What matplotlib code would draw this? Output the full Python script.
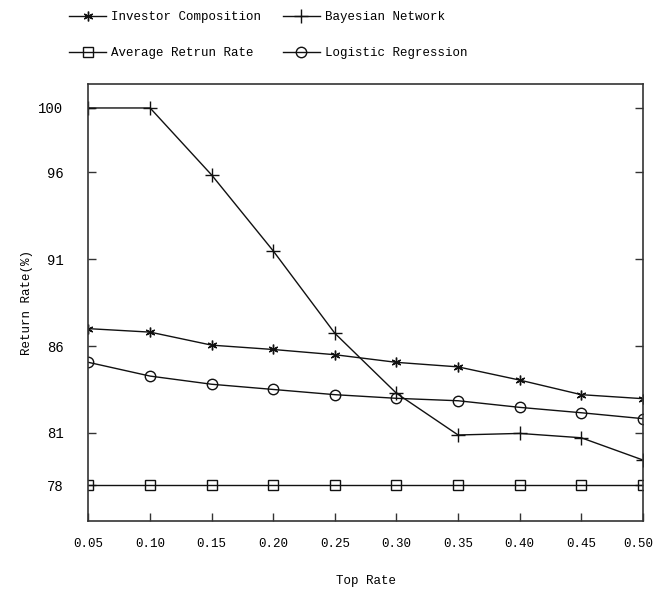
import matplotlib
matplotlib.use('Agg')
import matplotlib.pyplot as plt
from matplotlib.transforms import ScaledTranslation

plt.rcParams['font.family'] = ['Liberation Mono', 'DejaVu Sans Mono']

top_rate = [0.05, 0.10, 0.15, 0.20, 0.25, 0.30, 0.35, 0.40, 0.45, 0.50]
investor = [87.0, 86.8, 86.05, 85.8, 85.5, 85.06, 84.8, 84.04, 83.2, 82.97]
average = [78, 78, 78, 78, 78, 78, 78, 78, 78, 78]
bayesian = [99.7, 99.7, 95.84, 91.47, 86.73, 83.28, 80.88, 80.97, 80.72, 79.44]
logistic = [85.06, 84.27, 83.8, 83.5, 83.2, 82.99, 82.85, 82.47, 82.16, 81.82]

y_tick_pos = [78, 81, 86, 91, 96, 99.7]
y_tick_labels = ['78', '81', '86', '91', '96', '100']
x_tick_labels = ['0.05', '0.10', '0.15', '0.20', '0.25', '0.30', '0.35', '0.40', '0.45', '0.50']


def main():
    fig = plt.figure(figsize=(6.56, 5.94), dpi=100)
    ax = fig.add_axes([0.1349, 0.1229, 0.8451, 0.7357])

    c = '#111111'
    l1, = ax.plot(top_rate, investor, '-', color=c, lw=1, marker=(6, 2, 0),
                  ms=7, mew=1, label='Investor Composition')
    l2, = ax.plot(top_rate, average, '-', color=c, lw=1, marker='s',
                  ms=7, mfc='none', mec=c, mew=1, label='Average Retrun Rate')
    l3, = ax.plot(top_rate, bayesian, '-', color=c, lw=1, marker='+',
                  ms=10, mew=1, label='Bayesian Network')
    l4, = ax.plot(top_rate, logistic, '-', color=c, lw=1, marker='o',
                  ms=7.5, mfc='none', mec=c, mew=1, label='Logistic Regression')

    ax.set_xlim(0.05, 0.50)
    ax.set_ylim(75.93, 101.08)
    ax.set_xticks(top_rate)
    ax.set_xticklabels(x_tick_labels, fontsize=9)
    ax.set_yticks(y_tick_pos)
    ax.set_yticklabels(y_tick_labels, fontsize=10)
    ax.tick_params(axis='both', direction='in', length=6, width=1,
                   color='#333333', top=False, right=True)
    ax.tick_params(axis='y', pad=18)
    ax.tick_params(axis='x', pad=12)
    for s in ax.spines.values():
        s.set_color('#333333')
        s.set_linewidth(1.2)

    # keep the last x label inside the figure
    last = ax.get_xticklabels()[-1]
    last.set_transform(last.get_transform() + ScaledTranslation(-5 / 100, 0, fig.dpi_scale_trans))

    ax.set_xlabel('Top Rate', fontsize=9, labelpad=18)
    ax.set_ylabel('Return Rate(%)', fontsize=9, labelpad=4)

    fig.legend(handles=[l1, l2, l3, l4], ncol=2, frameon=False, fontsize=9,
               loc='upper left', bbox_to_anchor=(0.088, 1.0),
               handlelength=3.0, handletextpad=0.4, columnspacing=1.7,
               labelspacing=1.9)

    fig.savefig('out.png', dpi=100)


if __name__ == '__main__':
    main()
